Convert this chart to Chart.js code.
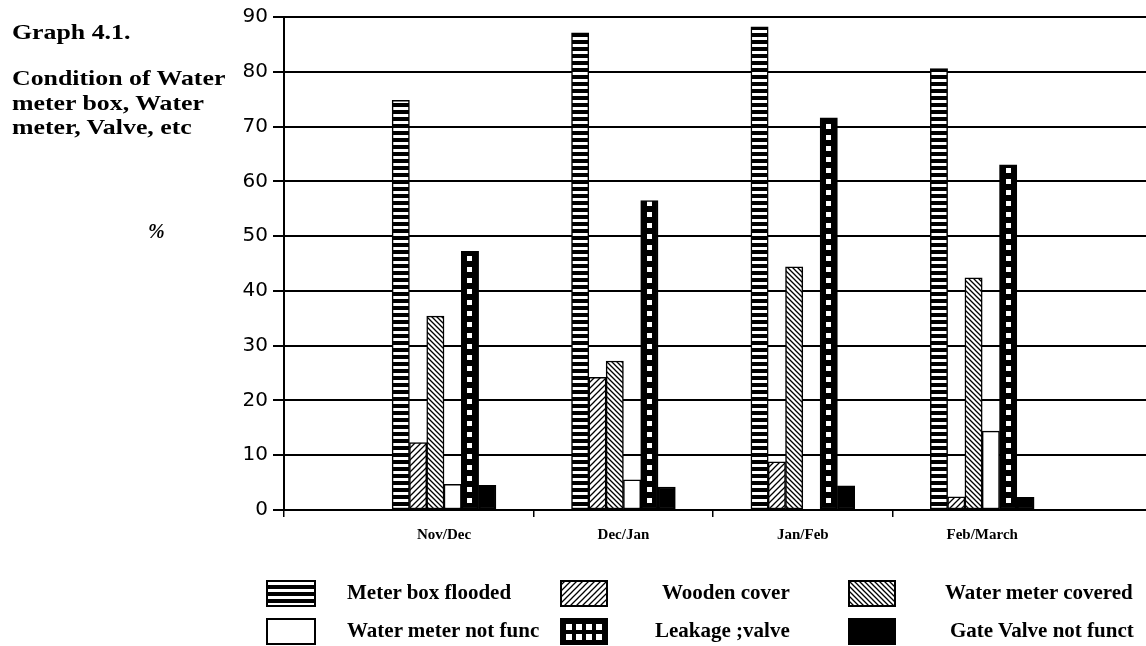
<!DOCTYPE html>
<html>
<head>
<meta charset="utf-8">
<script src="https://cdn.jsdelivr.net/npm/chart.js@4.4.0/dist/chart.umd.min.js"></script>
<style>
  html, body { margin: 0; padding: 0; background: #fff; }
  #wrap { position: relative; width: 1146px; height: 646px; overflow: hidden; }
  #c { position: absolute; left: 0; top: 0; }
  .t { position: absolute; font-family: "Liberation Serif", "Times New Roman", serif; font-weight: bold;
       color: #000; white-space: nowrap; transform-origin: 0 0; }
  .sw { position: absolute; }
</style>
</head>
<body>
<div id="wrap">
  <canvas id="c" width="1146" height="646"></canvas>
  <div class="t" style="left:12px;top:20px;font-size:21px;transform:scaleX(1.23)">Graph 4.1.</div>
  <div class="t" style="left:12px;top:66px;font-size:21px;line-height:24.5px;transform:scaleX(1.23)">Condition of Water<br>meter box, Water<br>meter, Valve, etc</div>
  <div class="t" style="left:148px;top:220px;font-size:20px;font-style:italic">%</div>
  <div id="legend"></div>
</div>
<script>
(function(){

    "use strict"

    // data
    const categories = ["Nov/Dec", "Dec/Jan", "Jan/Feb", "Feb/March"];
    const seriesNames = ["Meter box flooded", "Wooden cover", "Water meter covered",
                         "Water meter not func", "Leakage ;valve", "Gate Valve not funct"];
    const meterBoxFlooded   = [74.8, 87.1, 88.2, 80.6];
    const woodenCover       = [12.3, 24.2, 8.8, 2.4];
    const waterMeterCovered = [35.4, 27.2, 44.4, 42.4];
    const waterMeterNotFunc = [4.7, 5.5, 0, 14.4];
    const leakageValve      = [47.2, 56.5, 71.6, 63.0];
    const gateValveNotFunct = [4.5, 4.2, 4.4, 2.3];
    const yMin = 0, yMax = 90, yStep = 10;

    // pattern tiles
    function tile(w, h, draw) {
        const cv = document.createElement("canvas");
        cv.width = w; cv.height = h;
        const g = cv.getContext("2d");
        draw(g, w, h);
        return cv;
    }
    const tiles = {
        stripes: tile(8, 7, function(g, w, h){
            g.fillStyle = "#000"; g.fillRect(0, 0, w, h);
            g.fillStyle = "#fff"; g.fillRect(0, 2, w, 3);
        }),
        fwd: tile(6, 6, function(g, w, h){
            g.fillStyle = "#fff"; g.fillRect(0, 0, w, h);
            g.strokeStyle = "#000"; g.lineWidth = 1.3;
            g.beginPath();
            g.moveTo(-1, h + 1); g.lineTo(w + 1, -1);
            g.moveTo(-1, 1); g.lineTo(1, -1);
            g.moveTo(w - 1, h + 1); g.lineTo(w + 1, h - 1);
            g.stroke();
        }),
        back: tile(5, 5, function(g, w, h){
            g.fillStyle = "#fff"; g.fillRect(0, 0, w, h);
            g.strokeStyle = "#000"; g.lineWidth = 1.3;
            g.beginPath();
            g.moveTo(-1, -1); g.lineTo(w + 1, h + 1);
            g.moveTo(w - 1, -1); g.lineTo(w + 1, 1);
            g.moveTo(-1, h - 1); g.lineTo(1, h + 1);
            g.stroke();
        }),
        squares: tile(60, 11, function(g, w, h){
            g.fillStyle = "#000"; g.fillRect(0, 0, w, h);
            g.fillStyle = "#fff"; g.fillRect(6, 3, 5, 5);
        })
    };

    const chartCtx = document.getElementById("c").getContext("2d");
    const pat = function(name){ return chartCtx.createPattern(tiles[name], "repeat"); };

    // leakage squares: one column per bar, pattern moved to the bar's left edge
    function leakFill(ctx) {
        const p = pat("squares");
        const el = ctx.element;
        if (el && el.x != null && el.width) {
            p.setTransform(new DOMMatrix().translate(Math.round(el.x - el.width / 2), 0));
        }
        return p;
    }

    const fills = [pat("stripes"), pat("fwd"), pat("back"), "#fff", leakFill, "#000"];
    const seriesValues = [meterBoxFlooded, woodenCover, waterMeterCovered,
                          waterMeterNotFunc, leakageValve, gateValveNotFunct];

    const datasets = seriesNames.map(function(name, s){
        return {
            label: name,
            data: seriesValues[s].map(function(v, i){ return {x: i, y: v}; }),
            backgroundColor: fills[s],
            borderColor: "#000",
            borderWidth: 1.5,
            borderSkipped: false,
            barThickness: 17.3
        };
    });

    const xMin = -0.892, xMax = 3.913;

    const chart = new Chart(chartCtx, {
        type: "bar",
        data: { datasets: datasets },
        options: {
            responsive: false,
            animation: false,
            devicePixelRatio: 1,
            layout: { padding: { top: 16, right: 0, left: 0, bottom: 0 } },
            plugins: { legend: { display: false }, tooltip: { enabled: false } },
            scales: {
                x: {
                    type: "linear",
                    min: xMin,
                    max: xMax,
                    bounds: "data",
                    offset: false,
                    afterBuildTicks: function(scale){
                        const vals = [xMin];
                        categories.forEach(function(c, i){
                            vals.push(i);
                            if (i < categories.length - 1) vals.push(i + 0.5);
                        });
                        scale.ticks = vals.map(function(v){ return {value: v}; });
                    },
                    afterFit: function(scale){ scale.height = 136; },
                    grid: {
                        offset: false,
                        drawOnChartArea: false,
                        drawTicks: true,
                        tickLength: 7,
                        lineWidth: 1.5,
                        tickColor: function(c){
                            return (c.tick && Number.isInteger(c.tick.value)) ? "rgba(0,0,0,0)" : "#000";
                        }
                    },
                    border: { display: true, color: "#000", width: 2 },
                    ticks: {
                        autoSkip: false,
                        maxRotation: 0,
                        padding: 9,
                        color: "#000",
                        font: { family: "'Liberation Serif', 'Times New Roman', serif", weight: "bold", size: 15 },
                        callback: function(v){
                            return Number.isInteger(v) ? categories[v] : "";
                        }
                    }
                },
                y: {
                    min: yMin,
                    max: yMax,
                    afterFit: function(scale){ scale.width = 284; },
                    grid: { color: "#000", lineWidth: 2, tickLength: 11 },
                    border: { color: "#000", width: 2 },
                    ticks: {
                        stepSize: yStep,
                        padding: 5,
                        color: "#000",
                        font: { family: "'DejaVu Sans', sans-serif", size: 20 }
                    }
                }
            }
        }
    });
    // second pass so the leakage pattern can use the laid-out bar positions
    chart.update();

    // legend, laid out like the original 3 x 2 block
    const legendPos = [
        {sx: 266, sy: 580, sw: 50, tx: 347, ty: 580},
        {sx: 560, sy: 580, sw: 48, tx: 662, ty: 580},
        {sx: 848, sy: 580, sw: 48, tx: 945, ty: 580},
        {sx: 266, sy: 618, sw: 50, tx: 347, ty: 618},
        {sx: 560, sy: 618, sw: 48, tx: 655, ty: 618},
        {sx: 848, sy: 618, sw: 48, tx: 950, ty: 618}
    ];
    const legend = document.getElementById("legend");
    seriesNames.forEach(function(name, s){
        const pos = legendPos[s];
        const w = pos.sw, h = 27;
        const sw = document.createElement("canvas");
        sw.className = "sw";
        sw.width = w; sw.height = h;
        sw.style.left = pos.sx + "px";
        sw.style.top = pos.sy + "px";
        const g = sw.getContext("2d");
        if (s === 4) {
            g.fillStyle = "#000"; g.fillRect(0, 0, w, h);
            g.fillStyle = "#fff";
            for (let r = 0; r < 2; r++) {
                for (let k = 0; k < 4; k++) g.fillRect(6 + k * 10, 6 + r * 10, 6, 6);
            }
        } else {
            const f = typeof fills[s] === "string" ? fills[s] : g.createPattern(tiles[["stripes", "fwd", "back"][s]], "repeat");
            g.fillStyle = f; g.fillRect(0, 0, w, h);
        }
        g.strokeStyle = "#000"; g.lineWidth = 2; g.strokeRect(1, 1, w - 2, h - 2);
        legend.appendChild(sw);

        const label = document.createElement("div");
        label.className = "t";
        label.style.left = pos.tx + "px";
        label.style.top = pos.ty + "px";
        label.style.fontSize = "21px";
        label.textContent = name;
        legend.appendChild(label);
    });

}());
</script>
</body>
</html>
